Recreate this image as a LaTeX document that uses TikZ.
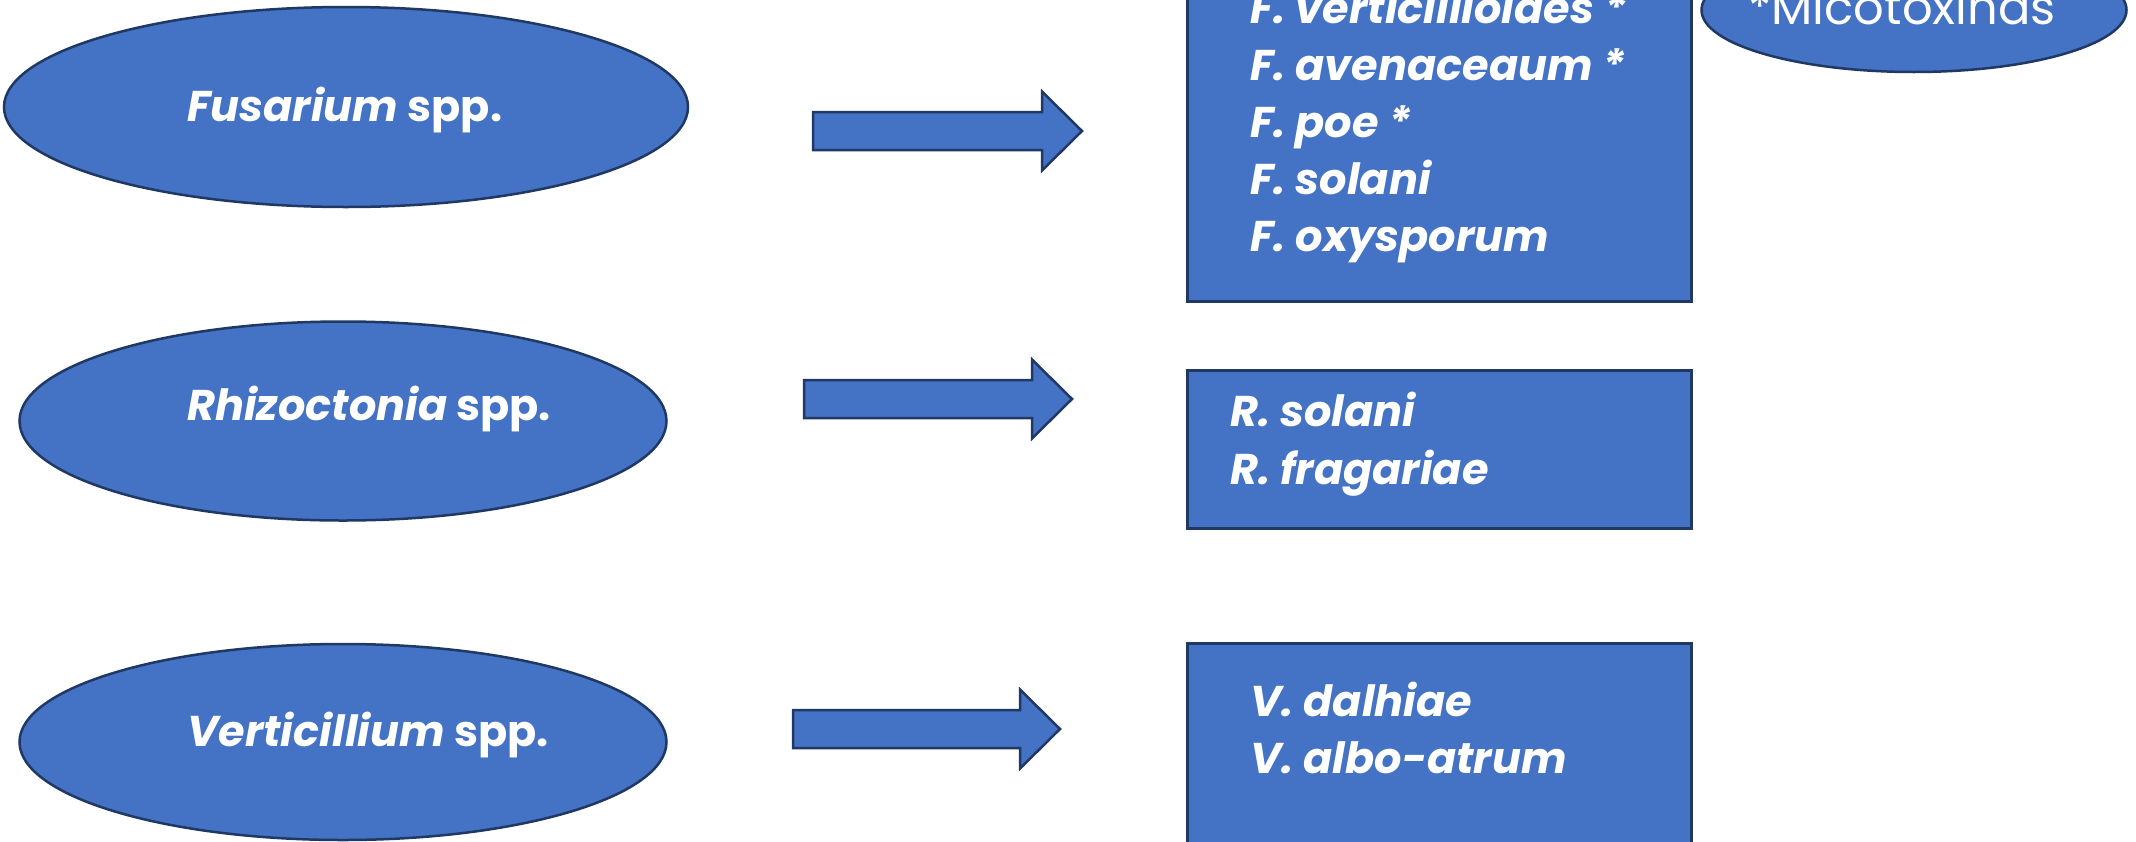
\documentclass[tikz,border=0pt]{standalone}
\usepackage{fontspec}
\setmainfont{Poppins}
\usetikzlibrary{shapes.geometric}
\definecolor{fillb}{HTML}{4472C4}
\definecolor{edgeb}{HTML}{203864}
\newcommand{\blockarrow}[4]{% name, left x, center y, tip x
  \draw[fat] (#2,#3-19) coordinate (#1-tail) -- (#4-40,#3-19) -- (#4-40,#3-39.5) -- (#4,#3) coordinate (#1-tip) -- (#4-40,#3+39.5) -- (#4-40,#3+19) -- (#2,#3+19) -- cycle;}
\begin{document}
\begin{tikzpicture}[x=1pt,y=-1pt,
  blob/.style={ellipse, fill=fillb, draw=edgeb, line width=2.5pt, inner sep=0pt},
  box/.style={rectangle, fill=fillb, draw=edgeb, line width=2.5pt, inner sep=0pt, anchor=north west},
  lbl/.style={text=white, font=\fontsize{43}{57}\selectfont\bfseries, anchor=base west, inner sep=0pt, align=left},
  fat/.style={fill=fillb, draw=edgeb, line width=2.5pt, line join=miter}]
\useasboundingbox (0,0) rectangle (2136,841);
\begin{scope}
\clip (0,0) rectangle (2136,841);
% left ellipses
\node[blob, minimum width=684pt, minimum height=200pt] (ef) at (346,107) {};
\node[blob, minimum width=647pt, minimum height=199pt] (er) at (343,421) {};
\node[blob, minimum width=647pt, minimum height=196pt] (ev) at (343,742) {};
\node[lbl] (tf) at (187,121) {\itshape Fusarium\upshape{} spp.};
\node[lbl] (tr) at (187,420) {\itshape Rhizoctonia\upshape{} spp.};
\node[lbl] (tv) at (187,746) {\itshape Verticillium\upshape{} spp.};
% arrows
\blockarrow{a1}{813}{131}{1082}
\blockarrow{a2}{804}{399}{1072}
\blockarrow{a3}{793}{729}{1060}
% boxes
\node[box, minimum width=504pt, minimum height=340pt] (bf) at (1186,-40) {};
\node[box, minimum width=504pt, minimum height=158pt] (br) at (1186,369) {};
\node[box, minimum width=504pt, minimum height=230pt] (bv) at (1186,642) {};
\node[lbl, font=\fontsize{43}{57}\selectfont\bfseries\itshape] (lf) at (1250,251) {F. verticillioides *\\F. avenaceaum *\\F. poe *\\F. solani\\F. oxysporum};
\node[lbl, font=\fontsize{43}{58}\selectfont\bfseries\itshape] (lr) at (1230,484) {R. solani\\R. fragariae};
\node[lbl, font=\fontsize{43}{57}\selectfont\bfseries\itshape] (lv) at (1250,773) {V. dalhiae\\V. albo-atrum};
% micotoxinas
\node[blob, minimum width=425pt, minimum height=124pt] (em) at (1914,10) {};
\node[text=white, font=\fontsize{48}{56}\selectfont, anchor=base, inner sep=0pt] (tm) at (1902,24) {*Micotoxinas};
\end{scope}
\end{tikzpicture}
\end{document}
